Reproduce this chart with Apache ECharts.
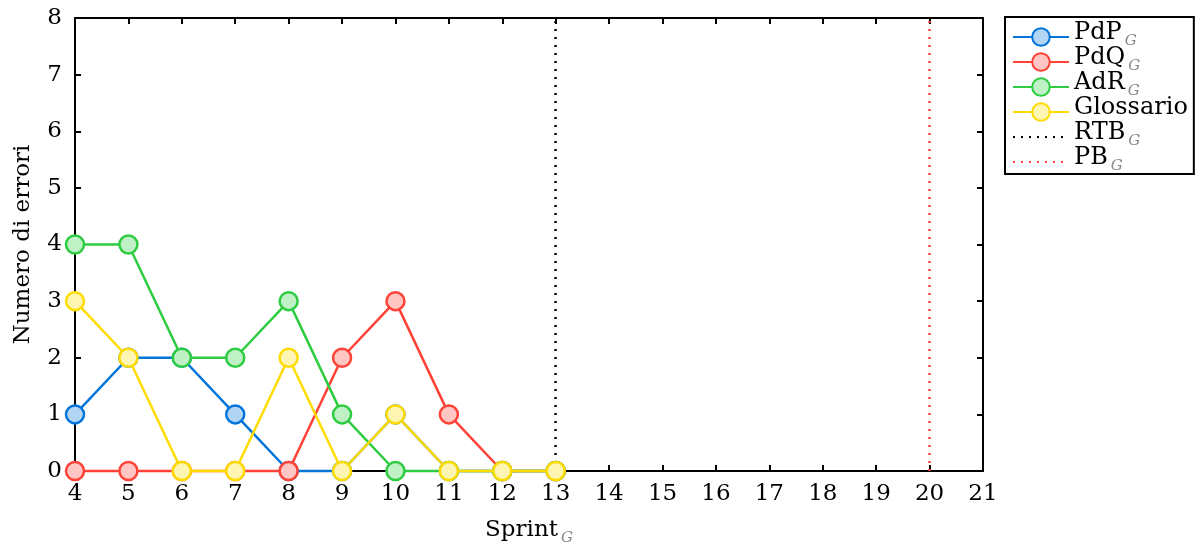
<!DOCTYPE html>
<html>
<head>
<meta charset="utf-8">
<script src="https://cdn.jsdelivr.net/npm/echarts@6/dist/echarts.min.js"></script>
<style>
html,body{margin:0;padding:0;background:#fff;}
#chart{width:1200px;height:549px;}
</style>
</head>
<body>
<div id="chart"></div>
<script>
// ---- data ----
const sprints   = [4, 5, 6, 7, 8, 9, 10, 11, 12, 13];
const pdp       = [1, 2, 2, 1, 0, 0, 1, 0, 0, 0];
const pdq       = [0, 0, 0, 0, 0, 2, 3, 1, 0, 0];
const adr       = [4, 4, 2, 2, 3, 1, 0, 0, 0, 0];
const glossario = [3, 2, 0, 0, 2, 0, 1, 0, 0, 0];
const seriesNames = ['PdP', 'PdQ', 'AdR', 'Glossario'];
const glossaryTerm = [true, true, true, false];
const milestoneNames = ['RTB', 'PB'];
const milestoneSprints = [13, 20];
const xMin = 4, xMax = 21, yMin = 0, yMax = 8;

const FONT = 'DejaVu Serif';
const lineColors = ['#0074D9', '#FF4136', '#2ECC40', '#FFDC00'];
const fillColors = ['#B2D5F4', '#FFC6C3', '#C0F0C6', '#FFF5B2'];
const msColors = ['#000000', '#FF4136'];

const values = [pdp, pdq, adr, glossario];

const legendRich = {
  n: {fontFamily: FONT, fontSize: 24, color: '#000', lineHeight: 24, verticalAlign: 'bottom', padding: [0, 0, 4, 0]},
  g: {fontFamily: FONT, fontSize: 15, fontStyle: 'italic', color: '#888', lineHeight: 14, verticalAlign: 'bottom', padding: [0, 0, 0, 3]}
};
const axisRich = {
  n: {fontFamily: FONT, fontSize: 23, color: '#000', lineHeight: 23, verticalAlign: 'bottom', padding: [0, 0, 4, 0]},
  g: {fontFamily: FONT, fontSize: 15, fontStyle: 'italic', color: '#888', lineHeight: 14, verticalAlign: 'bottom', padding: [0, 0, 0, 3]}
};

const series = [];
values.forEach((vals, i) => {
  series.push({
    name: seriesNames[i],
    type: 'line',
    data: sprints.map((s, k) => [s, vals[k]]),
    symbol: 'circle',
    symbolSize: 18,
    showAllSymbol: true,
    clip: false,
    lineStyle: {color: lineColors[i], width: 2.5},
    itemStyle: {color: fillColors[i], borderColor: lineColors[i], borderWidth: 2.5, opacity: 1},
    emphasis: {disabled: true},
    z: 3 + i
  });
});
milestoneNames.forEach((nm, i) => {
  series.push({
    name: nm,
    type: 'line',
    data: [],
    symbol: 'none',
    symbolSize: 0,
    lineStyle: {color: msColors[i], width: 2.5, type: [2, 6]},
    itemStyle: {color: msColors[i]},
    markLine: {
      silent: true,
      symbol: ['none', 'none'],
      label: {show: false},
      lineStyle: {color: msColors[i], width: 2.5, type: [2, 6]},
      data: [{xAxis: milestoneSprints[i]}]
    },
    z: 2
  });
});

const axisBase = {
  axisLine: {show: true, onZero: false, lineStyle: {color: '#000', width: 2}},
  axisTick: {show: true, inside: true, length: 6, lineStyle: {color: '#000', width: 2}},
  splitLine: {show: false}
};

const legendData = seriesNames.map(n => ({name: n})).concat(
  milestoneNames.map(n => ({name: n, itemStyle: {opacity: 0}}))
);

const option = {
  animation: false,
  backgroundColor: '#fff',
  grid: {left: 75, right: 217, top: 18, bottom: 78, containLabel: false, outerBoundsMode: 'none'},
  legend: {
    orient: 'vertical',
    left: 1005, top: 17,
    padding: [4, 6, 0, 7],
    itemGap: -3,
    itemWidth: 56,
    itemHeight: 22,
    borderColor: '#000',
    borderWidth: 2,
    backgroundColor: '#fff',
    data: legendData,
    formatter: function (name) {
      const idx = seriesNames.indexOf(name);
      const isTerm = idx >= 0 ? glossaryTerm[idx] : true;
      return isTerm ? '{n|' + name + '}{g|G}' : '{n|' + name + '}';
    },
    textStyle: {fontFamily: FONT, fontSize: 24, color: '#000', rich: legendRich}
  },
  xAxis: [
    Object.assign({
      type: 'value', position: 'bottom', min: xMin, max: xMax, interval: 1,
      name: '{n|Sprint}{g|G}', nameLocation: 'middle', nameGap: 52,
      nameTextStyle: {rich: axisRich},
      axisLabel: {show: true, fontFamily: FONT, fontSize: 23, color: '#000', margin: 12}
    }, axisBase),
    Object.assign({
      type: 'value', position: 'top', min: xMin, max: xMax, interval: 1,
      axisLabel: {show: false}
    }, axisBase)
  ],
  yAxis: [
    Object.assign({
      type: 'value', position: 'left', min: yMin, max: yMax, interval: 1,
      name: 'Numero di errori', nameLocation: 'middle', nameGap: 40,
      nameTextStyle: {fontFamily: FONT, fontSize: 23, color: '#000'},
      axisLabel: {show: true, fontFamily: FONT, fontSize: 23, color: '#000', margin: 13}
    }, axisBase),
    Object.assign({
      type: 'value', position: 'right', min: yMin, max: yMax, interval: 1,
      axisLabel: {show: false}
    }, axisBase)
  ],
  series: series
};

const chart = echarts.init(document.getElementById('chart'), null, {renderer: 'canvas'});
chart.setOption(option);
</script>
</body>
</html>
